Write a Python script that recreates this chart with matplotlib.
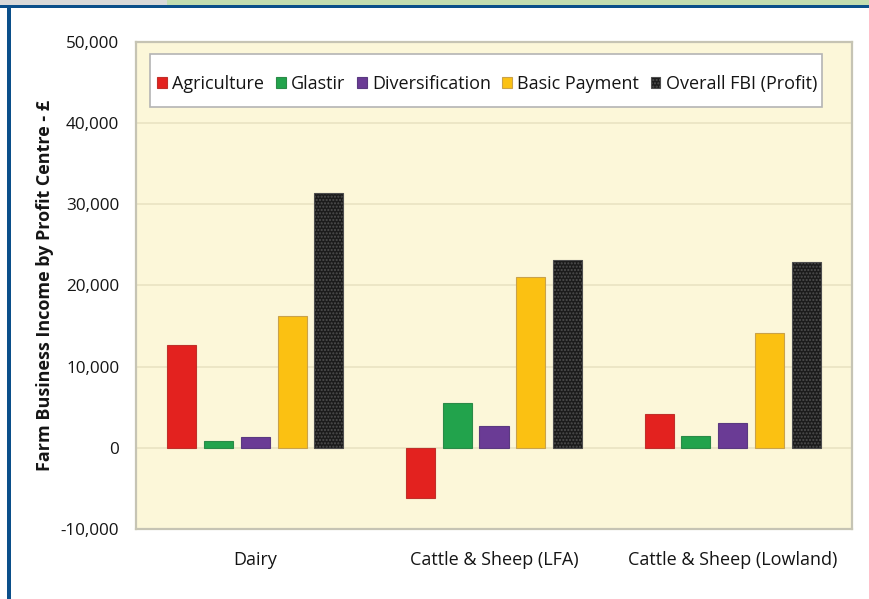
import matplotlib
matplotlib.use("Agg")
import matplotlib.pyplot as plt
from matplotlib.patches import Rectangle
import numpy as np

plt.rcParams["font.family"] = ["Open Sans", "DejaVu Sans"]

BG_PANEL = "#fcf7d9"
GRID_COL = "#ece6c6"
FRAME    = "#c6c4b4"
BLUE     = "#0b4f8a"

categories = ["Dairy", "Cattle & Sheep (LFA)", "Cattle & Sheep (Lowland)"]
series     = ["Agriculture", "Glastir", "Diversification", "Basic Payment", "Overall FBI (Profit)"]
agriculture     = [12700, -6200, 4200]
glastir         = [900, 5500, 1500]
diversification = [1350, 2700, 3000]
basic_payment   = [16200, 21100, 14100]
overall_fbi     = [31400, 23100, 22900]
yticks = [-10000, 0, 10000, 20000, 30000, 40000, 50000]

values = [agriculture, glastir, diversification, basic_payment, overall_fbi]
colors = ["#e3221f", "#22a34c", "#6a3b95", "#fbc112", "#1b1b1b"]
edges  = ["#c0302a", "#2b8a48", "#5a3a80", "#c9a24a", "#6a6a6a"]

fig = plt.figure(figsize=(8.69, 5.99), dpi=100, facecolor="white")

# page furniture: top strip and blue rules
fig.add_artist(Rectangle((0, 594 / 599), 167 / 869, 5 / 599, transform=fig.transFigure,
                         color="#d9d9d9", lw=0))
fig.add_artist(Rectangle((167 / 869, 594 / 599), 1, 5 / 599, transform=fig.transFigure,
                         color="#c3ddb0", lw=0))
fig.add_artist(Rectangle((0, 591 / 599), 1, 3.5 / 599, transform=fig.transFigure,
                         color=BLUE, lw=0))
fig.add_artist(Rectangle((7.5 / 869, 0), 3.5 / 869, 594 / 599, transform=fig.transFigure,
                         color=BLUE, lw=0))

ax = fig.add_axes([136 / 869, 70 / 599, 716 / 869, 487 / 599])
ax.set_facecolor(BG_PANEL)

x = np.arange(len(categories))
bar_w = 0.122
step = 0.154
offsets = (np.arange(len(series)) - 2) * step

for vals, name, col, ec, off in zip(values, series, colors, edges, offsets):
    if name.startswith("Overall"):
        ax.bar(x + off, vals, bar_w, color=col, edgecolor="#4e4e4e", hatch=".....",
               linewidth=0.8, label=name, zorder=3)
    else:
        ax.bar(x + off, vals, bar_w, color=col, edgecolor=ec, linewidth=0.8,
               label=name, zorder=3)

ax.set_xlim(-0.5, 2.5)
ax.set_ylim(-10000, 50000)
ax.set_yticks(yticks)
ax.set_yticklabels([f"{v:,}" for v in yticks], fontsize=12.3, color="#151515")
ax.set_xticks(x)
ax.set_xticklabels(categories, fontsize=13, color="#151515")
ax.tick_params(axis="y", length=0, pad=12)
ax.tick_params(axis="x", length=0, pad=16)
ax.set_ylabel("Farm Business Income by Profit Centre - £", fontsize=13,
              fontweight="bold", color="#151515", labelpad=5)

ax.grid(axis="y", color=GRID_COL, linewidth=1.4, zorder=0)
ax.set_axisbelow(True)
for spine in ax.spines.values():
    spine.set_color(FRAME)
    spine.set_linewidth(1.6)

# legend sits in a white box inside the plot area
ax.add_patch(Rectangle((0.0196, 0.866), 0.938, 0.109, transform=ax.transAxes,
                       facecolor="white", edgecolor="#b4b4b4", linewidth=1.2, zorder=4))
leg = ax.legend(loc="center", bbox_to_anchor=(0.4905, 0.914), ncol=5, frameon=False,
                fontsize=13, handlelength=0.55, handleheight=0.55, handletextpad=0.3,
                columnspacing=0.62, borderaxespad=0)
leg.set_zorder(5)
for txt in leg.get_texts():
    txt.set_color("#151515")

fig.savefig("out.png", dpi=100, facecolor=fig.get_facecolor())
